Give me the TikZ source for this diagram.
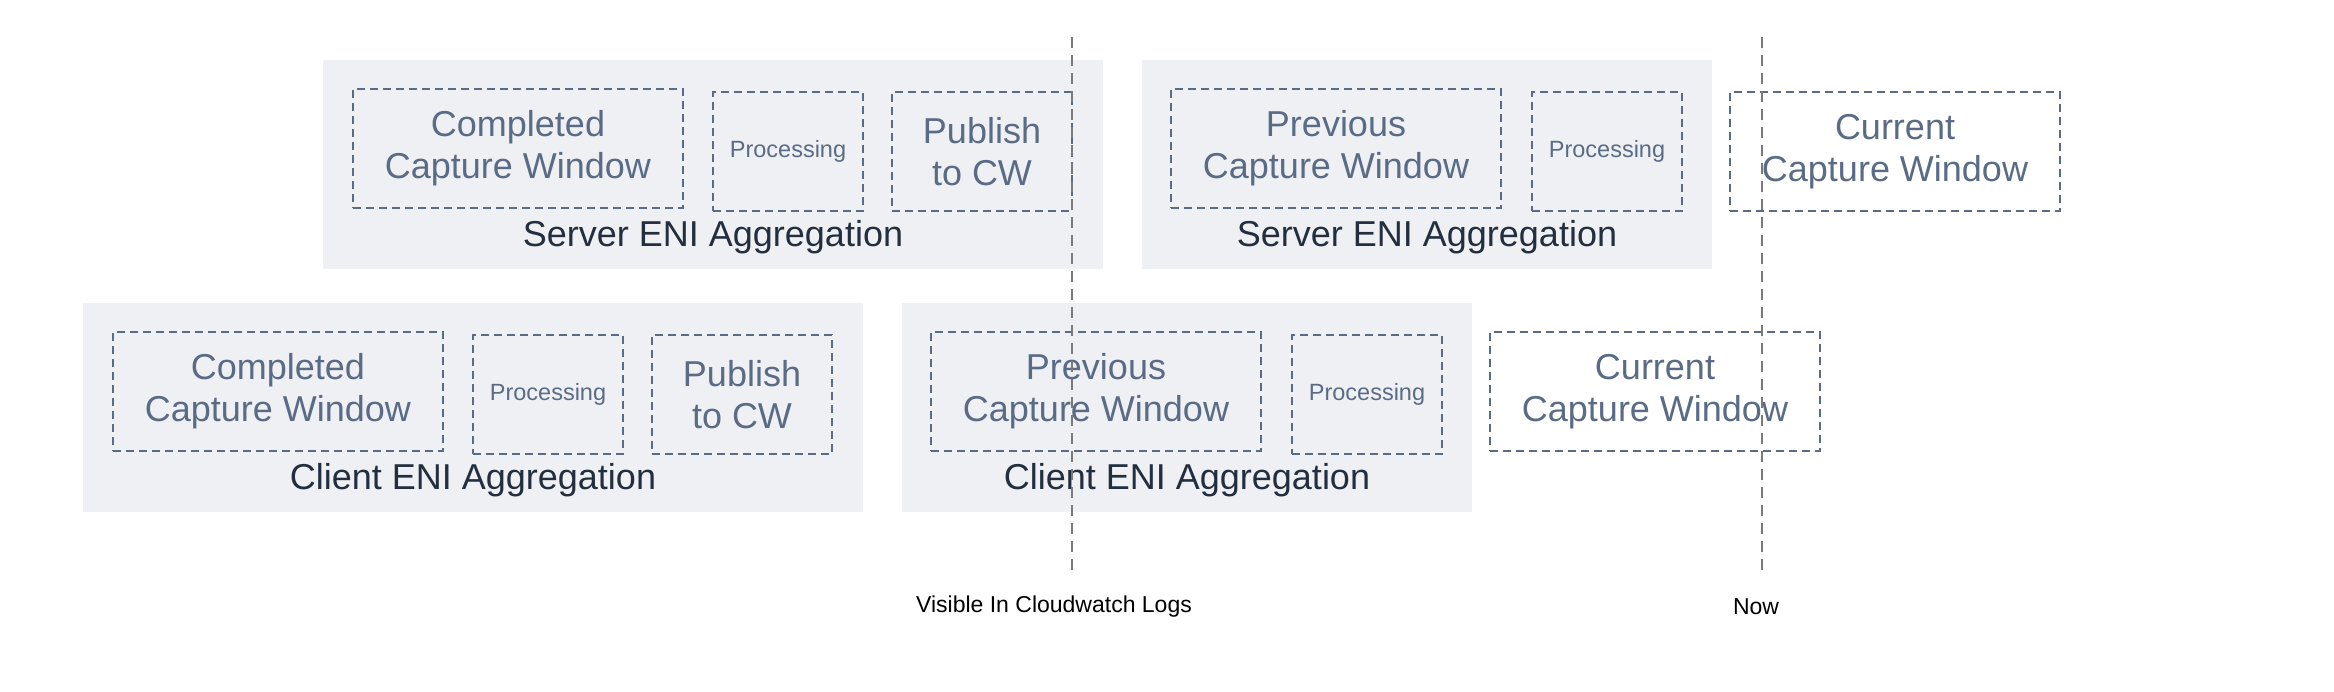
\documentclass[tikz,border=0pt]{standalone}
\usepackage{fontspec}
\setmainfont{Liberation Sans}
\definecolor{grpfill}{HTML}{EFF0F3}
\definecolor{boxline}{HTML}{5A6B86}
\definecolor{lbl}{HTML}{232F3E}
\definecolor{vline}{HTML}{7A7A7A}
\tikzset{
  grp/.style={draw=none, fill=grpfill, inner sep=0pt, anchor=center},
  wbox/.style={draw=boxline, dash pattern=on 8pt off 5pt, line width=2pt, inner sep=0pt,
     minimum height=119pt, align=center, text=boxline, font=\fontsize{36}{42}\selectfont},
  bigbox/.style={wbox, minimum width=330pt},
  procbox/.style={wbox, minimum width=150pt, font=\fontsize{23.5}{28}\selectfont},
  pubbox/.style={wbox, minimum width=180pt},
  grplabel/.style={inner sep=0pt, text=lbl, font=\fontsize{36}{42}\selectfont},
  timeline/.style={draw=vline, line width=2pt, dash pattern=on 11pt off 7pt},
  timelabel/.style={inner sep=0pt, text=black, font=\fontsize{23}{27}\selectfont},
}
\begin{document}
\begin{tikzpicture}[x=1pt,y=-1pt]
\useasboundingbox (0,0) rectangle (2334,692);
% top row
\node[grp, minimum width=780pt, minimum height=209pt] (g1) at (713,164.5) {};
\node[grp, minimum width=570pt, minimum height=209pt] (g2) at (1427,164.5) {};
\node[bigbox] (c1) at (518,148.5) {Completed\\Capture Window};
\node[procbox] (p1) at (788,151.5) {Processing};
\node[pubbox] (u1) at (982,151.5) {Publish\\to CW};
\node[grplabel] (l1) at (713,237) {Server ENI Aggregation};
\node[bigbox] (c2) at (1336,148.5) {Previous\\Capture Window};
\node[procbox] (p2) at (1607,151.5) {Processing};
\node[bigbox] (n2) at (1895,151.5) {Current\\Capture Window};
\node[grplabel] (l2) at (1427,237) {Server ENI Aggregation};
% bottom row
\node[grp, minimum width=780pt, minimum height=209pt] (g3) at (473,407.5) {};
\node[grp, minimum width=570pt, minimum height=209pt] (g4) at (1187,407.5) {};
\node[bigbox] (c3) at (278,391.5) {Completed\\Capture Window};
\node[procbox] (p3) at (548,394.5) {Processing};
\node[pubbox] (u3) at (742,394.5) {Publish\\to CW};
\node[grplabel] (l3) at (473,480) {Client ENI Aggregation};
\node[bigbox] (c4) at (1096,391.5) {Previous\\Capture Window};
\node[procbox] (p4) at (1367,394.5) {Processing};
\node[bigbox] (n4) at (1655,391.5) {Current\\Capture Window};
\node[grplabel] (l4) at (1187,480) {Client ENI Aggregation};
% time lines
\coordinate (v1t) at (1072,37);
\coordinate (v1b) at (1072,570);
\coordinate (v2t) at (1762,37);
\coordinate (v2b) at (1762,570);
\draw[timeline] (v1t) -- (v1b);
\draw[timeline] (v2t) -- (v2b);
\node[timelabel] (t1) at (1054,607) {Visible In Cloudwatch Logs};
\node[timelabel] (t2) at (1756,607) {Now};
\end{tikzpicture}
\end{document}
